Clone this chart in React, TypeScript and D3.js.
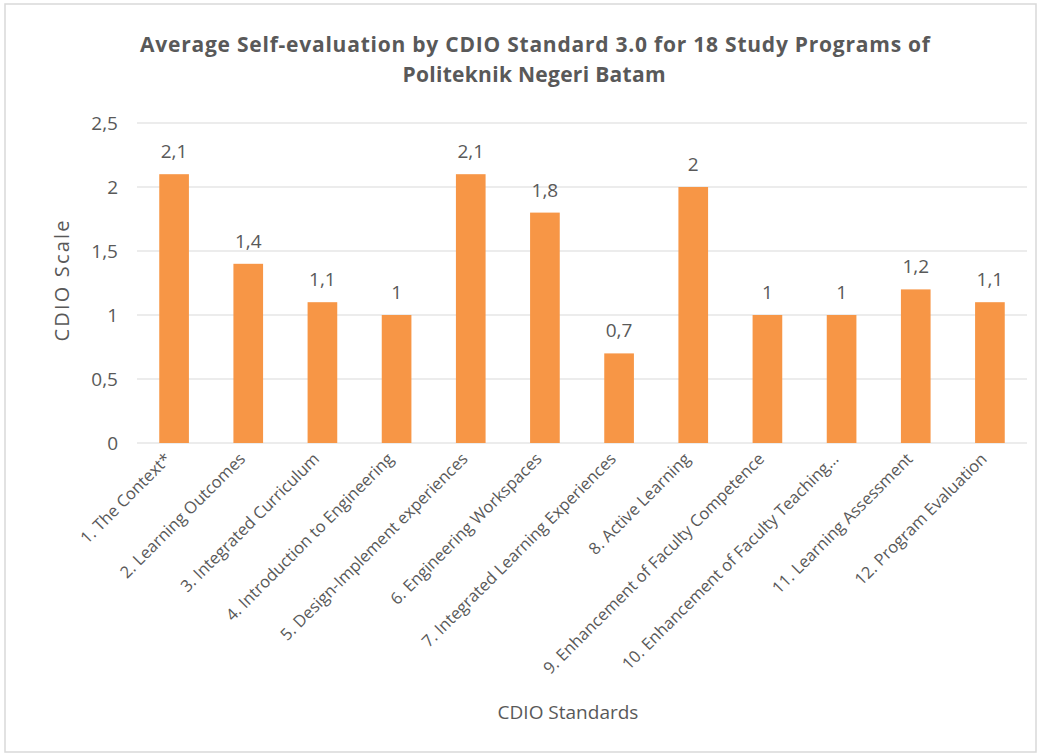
import React, { useEffect } from "react";
import * as d3 from "d3";

const categories = [
  "1. The Context*",
  "2. Learning Outcomes",
  "3. Integrated Curriculum",
  "4. Introduction to Engineering",
  "5. Design-Implement experiences",
  "6. Engineering Workspaces",
  "7. Integrated Learning Experiences",
  "8. Active Learning",
  "9. Enhancement of Faculty Competence",
  "10. Enhancement of Faculty Teaching…",
  "11. Learning Assessment",
  "12. Program Evaluation",
];
const values = [2.1, 1.4, 1.1, 1, 2.1, 1.8, 0.7, 2, 1, 1, 1.2, 1.1];
const yTicks = [0, 0.5, 1, 1.5, 2, 2.5];

const W = 1037;
const H = 754;
const FONT = "'Open Sans', sans-serif";
const TEXT = "#595959";

export default function App() {
  useEffect(() => {
    document.body.style.margin = "0";
  }, []);

  const margin = { top: 123, right: 10, bottom: 311, left: 137 };
  const innerW = W - margin.left - margin.right;
  const innerH = H - margin.top - margin.bottom;

  const x = d3.scaleBand<string>().domain(categories).range([0, innerW]).paddingInner(0.6).paddingOuter(0.3);
  const y = d3.scaleLinear().domain([0, 2.5]).range([innerH, 0]);
  const fmt = (v: number) => String(v).replace(".", ",");

  return (
    <svg width={W} height={H} style={{ display: "block", background: "#fff" }} fontFamily={FONT}>
      <rect x={5} y={4} width={W - 6} height={H - 6} fill="#fff" stroke="#d9d9d9" strokeWidth={1.5} />
      <text x={535} y={52} textAnchor="middle" fontSize={21} fontWeight="bold" fill={TEXT}
        textLength={790} lengthAdjust="spacing">
        Average Self-evaluation by CDIO Standard 3.0 for 18 Study Programs of
      </text>
      <text x={534} y={82} textAnchor="middle" fontSize={21} fontWeight="bold" fill={TEXT}
        textLength={263} lengthAdjust="spacing">
        Politeknik Negeri Batam
      </text>
      <g transform={`translate(${margin.left},${margin.top})`}>
        {yTicks.map((t) => (
          <g key={t}>
            <line x1={0} x2={innerW} y1={y(t)} y2={y(t)} stroke="#d9d9d9" strokeWidth={1} />
            <text x={-19} y={y(t)} dy="0.35em" textAnchor="end" fontSize={19} fill={TEXT}>
              {fmt(t)}
            </text>
          </g>
        ))}
        {categories.map((c, i) => {
          const cx = (x(c) ?? 0) + x.bandwidth() / 2;
          return (
            <g key={c}>
              <rect x={x(c)} y={y(values[i])} width={x.bandwidth()} height={innerH - y(values[i])} fill="#F79646" />
              <text x={cx} y={y(values[i]) - 16} textAnchor="middle" fontSize={19} fill={TEXT}>
                {fmt(values[i])}
              </text>
              <text
                transform={`translate(${cx - 2},${innerH + 17}) rotate(-45)`}
                textAnchor="end"
                fontSize={16.5}
                fill={TEXT}
              >
                {c}
              </text>
            </g>
          );
        })}
        <text
          transform={`translate(-68,${innerH / 2 - 2}) rotate(-90)`}
          textAnchor="middle"
          fontSize={20}
          fill={TEXT}
          textLength={121}
          lengthAdjust="spacing"
        >
          CDIO Scale
        </text>
      </g>
      <text x={568} y={719} textAnchor="middle" fontSize={19} fill={TEXT}>
        CDIO Standards
      </text>
    </svg>
  );
}
